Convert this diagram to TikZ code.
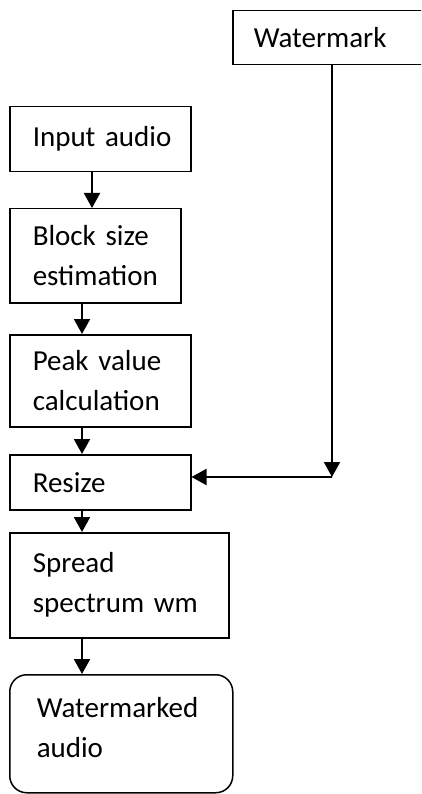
\documentclass[tikz,border=0pt]{standalone}
\usepackage{fontspec}
\setmainfont{Carlito}
\usetikzlibrary{arrows.meta}
\newcommand{\ind}[1][23pt]{\hspace*{#1}}
\begin{document}
\begin{tikzpicture}[x=1pt,y=-1pt,
  box/.style={draw=black, line width=1.5pt, rectangle, inner xsep=0pt, inner ysep=0pt,
    align=left, font={\fontsize{29}{40}\selectfont\spaceskip=\fontdimen2\font\relax}, anchor=north west},
  arr/.style={line width=2pt, -{Triangle[length=15pt,width=16pt]}}]
\useasboundingbox (0,0) rectangle (421,794);
\clip (0,0) rectangle (421,794);
\node[box, text width=181pt, minimum height=65pt] (input) at (9,106) {\ind Input audio};
\node[box, text width=171pt, minimum height=94pt] (block) at (9,208) {\ind Block size\\\ind estimation};
\node[box, text width=181pt, minimum height=92pt] (peak) at (9,334) {\ind Peak value\\\ind calculation};
\node[box, text width=181pt, minimum height=55pt] (resize) at (9,454) {\ind Resize};
\node[box, text width=219pt, minimum height=105pt] (spread) at (9,532) {\ind Spread\\\ind spectrum wm};
\node[box, rounded corners=17pt, text width=223pt, minimum height=118pt] (out) at (9,674) {\ind[27pt]Watermarked\\\ind[27pt]audio\\[-28pt]\mbox{}};
\node[box, text width=200pt, minimum height=54pt] (wm) at (232,10) {\ind[21pt]Watermark};
\coordinate (corner) at (332,477);
\draw[arr] (input.south -| 92,0) -- (block.north -| 92,0);
\draw[arr] (block.south -| 82,0) -- (peak.north -| 82,0);
\draw[arr] (peak.south -| 82,0) -- (resize.north -| 82,0);
\draw[arr] (resize.south -| 82,0) -- (spread.north -| 82,0);
\draw[arr] (spread.south -| 82,0) -- (out.north -| 82,0);
\draw[arr] (wm.south -| corner) -- (corner);
\draw[arr] (corner) -- (resize.east |- corner);
\end{tikzpicture}
\end{document}
